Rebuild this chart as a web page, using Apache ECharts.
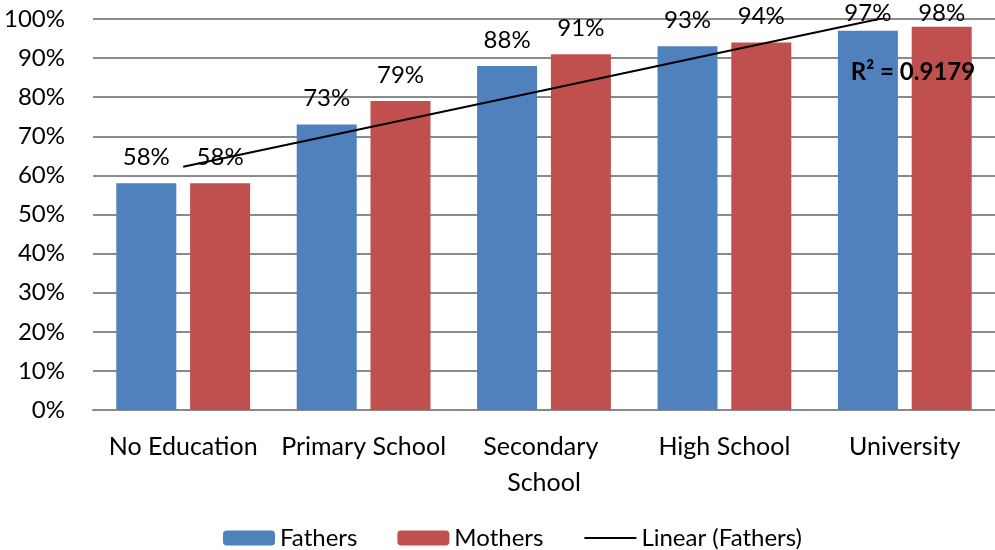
<!DOCTYPE html>
<html>
<head>
<meta charset="utf-8">
<script src="https://cdn.jsdelivr.net/npm/echarts@6/dist/echarts.min.js"></script>
<style>
  html, body { margin: 0; padding: 0; background: #fff; }
  #chart { width: 995px; height: 550px; }
</style>
</head>
<body>
<div id="chart"></div>
<script>
// Share of children by parent education level
const categories = ['No Education', 'Primary School', 'Secondary School', 'High School', 'University'];
const fathers = [58, 73, 88, 93, 97];
const mothers = [58, 79, 91, 94, 98];
const yTicks = [0, 10, 20, 30, 40, 50, 60, 70, 80, 90, 100];
const rSquaredText = 'R² = 0.9179';

// Least-squares linear trend of the fathers series (x = 1..n)
function linearTrend(values) {
  const n = values.length;
  const xs = values.map((_, i) => i + 1);
  const mx = xs.reduce((a, b) => a + b, 0) / n;
  const my = values.reduce((a, b) => a + b, 0) / n;
  let sxy = 0, sxx = 0;
  for (let i = 0; i < n; i++) {
    sxy += (xs[i] - mx) * (values[i] - my);
    sxx += (xs[i] - mx) * (xs[i] - mx);
  }
  const slope = sxy / sxx;
  const intercept = my - slope * mx;
  return xs.map(x => intercept + slope * x);
}
const fathersTrend = linearTrend(fathers);

const FONT = 'Lato, "Liberation Sans", sans-serif';
const LABEL_GAP = 14;       // normal gap between bar top and its value label
const LABEL_MIN_BOTTOM = 25; // labels must not rise above the canvas top
const chart = echarts.init(document.getElementById('chart'));

const barLabel = {
  show: true,
  position: 'top',
  distance: LABEL_GAP,
  color: '#000',
  fontFamily: FONT,
  fontSize: 24,
  formatter: p => p.value + '%'
};

chart.setOption({
  animation: false,
  textStyle: { fontFamily: FONT },
  grid: { left: 93, right: 0, top: 19, bottom: 140, containLabel: false },
  xAxis: {
    type: 'category',
    data: categories,
    axisTick: { show: false },
    axisLine: { lineStyle: { color: '#8a8a8a', width: 2 } },
    axisLabel: {
      color: '#000',
      fontFamily: FONT,
      fontSize: 25,
      lineHeight: 36,
      margin: 19,
      width: 170,
      overflow: 'break',
      interval: 0
    }
  },
  yAxis: {
    type: 'value',
    min: yTicks[0],
    max: yTicks[yTicks.length - 1],
    interval: yTicks[1] - yTicks[0],
    axisLine: { show: false },
    axisTick: { show: false },
    splitLine: { lineStyle: { color: '#8a8a8a', width: 2 } },
    axisLabel: {
      color: '#000',
      fontFamily: FONT,
      fontSize: 24,
      margin: 28,
      formatter: v => v + '%'
    }
  },
  legend: {
    top: 521,
    left: 218,
    itemWidth: 52,
    itemHeight: 15,
    itemGap: 40,
    textStyle: { color: '#000', fontFamily: FONT, fontSize: 24 },
    data: [
      'Fathers',
      'Mothers',
      { name: 'Linear (Fathers)', itemStyle: { color: 'rgba(0,0,0,0)', borderWidth: 0, opacity: 0 } }
    ]
  },
  series: [
    {
      name: 'Fathers',
      type: 'bar',
      data: fathers,
      barWidth: 60,
      barGap: '23%',
      itemStyle: { color: '#4F81BD' },
      label: barLabel
    },
    {
      name: 'Mothers',
      type: 'bar',
      data: mothers,
      barWidth: 60,
      barGap: '23%',
      itemStyle: { color: '#C0504D' },
      label: barLabel
    },
    {
      name: 'Linear (Fathers)',
      type: 'line',
      data: fathersTrend,
      symbol: 'none',
      clip: true,
      z: 5,
      lineStyle: { color: '#000', width: 2 }
    }
  ],
  graphic: [
    {
      type: 'text',
      x: 913,
      y: 72,
      z: 10,
      style: {
        text: rSquaredText,
        fill: '#000',
        font: 'bold 24px ' + FONT,
        align: 'center',
        verticalAlign: 'middle'
      }
    }
  ]
});

// Shrink the label gap for bars that reach the top of the plot so the
// value labels stay on the canvas.
function withClampedLabels(values) {
  return values.map((v, i) => {
    const py = chart.convertToPixel({ gridIndex: 0 }, [i, v])[1];
    const gap = Math.max(0, Math.min(LABEL_GAP, py - LABEL_MIN_BOTTOM));
    return { value: v, label: { distance: gap } };
  });
}
chart.setOption({
  series: [
    { name: 'Fathers', data: withClampedLabels(fathers) },
    { name: 'Mothers', data: withClampedLabels(mothers) }
  ]
});
</script>
</body>
</html>
